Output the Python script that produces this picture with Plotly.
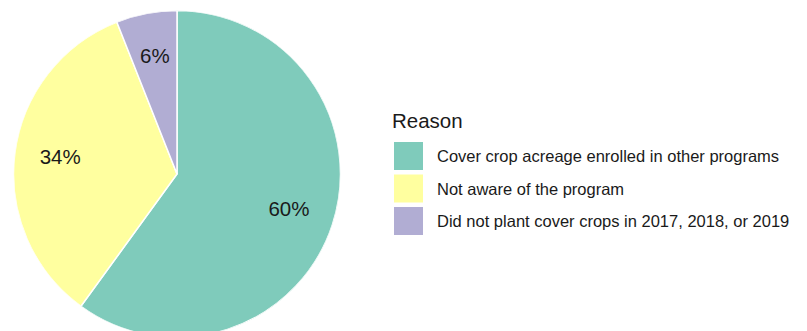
import plotly.graph_objects as go

labels = ["Cover crop acreage enrolled in other programs",
          "Not aware of the program",
          "Did not plant cover crops in 2017, 2018, or 2019"]
values = [60, 34, 6]
colors = ["#7FCBBB", "#FFFF9F", "#B1ADD3"]
legend_title = "Reason"

W = 807
H = 338  # figure slightly taller than the 331px window: pie bottom is cropped as in the reference
FONT = "Liberation Sans, Arial, sans-serif"

# pie geometry (pixels)
cx, cy, rad = 177, 174, 163.5
dom_x = [(cx - rad) / W, (cx + rad) / W]
dom_y = [max(0, 1 - (cy + rad) / H), 1 - (cy - rad) / H]

# slice angles from the values (clockwise from 12 o'clock)
total = sum(values)
mids, widths, texts = [], [], []
cum = 0
for v in values:
    widths.append(360 * v / total)
    mids.append(360 * (cum + v / 2) / total)
    texts.append(f"{round(100 * v / total)}%")
    cum += v

fig = go.Figure()
fig.add_trace(go.Barpolar(
    r=[1] * len(values), theta=mids, width=widths, base=0,
    marker=dict(color=colors, line=dict(color="white", width=1.5)),
    text=labels, hovertemplate="%{text}<extra></extra>", showlegend=False,
))
fig.add_trace(go.Scatterpolar(
    r=[0.72] * len(values), theta=mids, text=texts, mode="text",
    textfont=dict(family=FONT, size=20.5, color="#1a1a1a"),
    showlegend=False, hoverinfo="skip",
))
fig.update_layout(polar=dict(
    domain=dict(x=dom_x, y=dom_y), bgcolor="rgba(0,0,0,0)", bargap=0,
    radialaxis=dict(range=[0, 1], visible=False, showgrid=False, showline=False),
    angularaxis=dict(rotation=90, direction="clockwise", visible=False,
                     showgrid=False, showline=False),
))

def px(x):
    return x / W

def py(y):
    return 1 - y / H

shapes = []
annotations = [dict(text=legend_title, x=px(390), y=py(121), xref="paper", yref="paper",
                    xanchor="left", yanchor="middle", showarrow=False,
                    font=dict(family=FONT, size=20.5, color="#1a1a1a"))]
row_top = 142
row_step = 32.5
for i, (lab, col) in enumerate(zip(labels, colors)):
    y0 = row_top + i * row_step
    shapes.append(dict(type="rect", xref="paper", yref="paper",
                       x0=px(394), x1=px(423), y0=py(y0), y1=py(y0 + 28),
                       fillcolor=col, line=dict(width=0)))
    annotations.append(dict(text=lab, x=px(435), y=py(y0 + 14), xref="paper", yref="paper",
                            xanchor="left", yanchor="middle", showarrow=False,
                            font=dict(family=FONT, size=16.5, color="#1a1a1a")))

fig.update_layout(width=W, height=H, margin=dict(l=0, r=0, t=0, b=0),
                  paper_bgcolor="white", plot_bgcolor="white",
                  shapes=shapes, annotations=annotations)
fig.write_html("out.html",
               post_script="document.documentElement.style.overflow='hidden';"
                           "document.body.style.overflow='hidden';")
